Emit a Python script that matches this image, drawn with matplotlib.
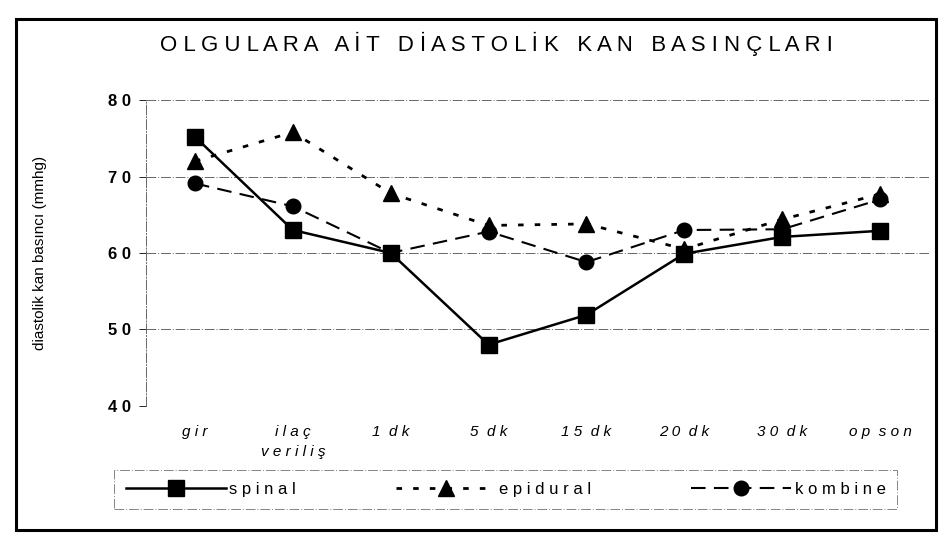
import matplotlib.pyplot as plt
from matplotlib.patches import Rectangle

# data
categories = ['g i r', 'i l a ç\nv e r i l i ş', '1  d k', '5  d k', '1 5  d k', '2 0  d k', '3 0  d k', 'o p  s o n']
spinal = [75.2, 63.0, 60.0, 48.0, 51.9, 59.9, 62.1, 62.9]
epidural = [72.0, 75.8, 67.8, 63.6, 63.8, 60.5, 64.4, 67.7]
kombine = [69.1, 66.1, 60.0, 62.8, 58.8, 63.0, 63.1, 67.0]
yticks = [40, 50, 60, 70, 80]
ytick_labels = ['4 0', '5 0', '6 0', '7 0', '8 0']

plt.rcParams['font.family'] = ['Liberation Sans', 'DejaVu Sans']

fig = plt.figure(figsize=(9.45, 5.44), dpi=100)
ax = fig.add_axes([0.1545, 0.254, 0.8286, 0.562])

x = list(range(len(categories)))

# grid lines (thin, broken up like the scan)
for v in yticks:
    ax.axhline(v, color='#666666', lw=0.7, ls=(0, (10, 2, 1, 2)), zorder=1)

ax.plot(x, epidural, color='black', lw=2, ls=(0, (2, 4)), marker='^', ms=11,
        label='e p i d u r a l', zorder=3)
ax.plot(x, kombine, color='black', lw=1.5, ls=(0, (7, 4)), marker='o', ms=10.5,
        label='k o m b i n e', zorder=4)
ax.plot(x, spinal, color='black', lw=1.8, ls='-', marker='s', ms=12,
        label='s p i n a l', zorder=5)

ax.set_xlim(-0.5, 7.5)
ax.set_ylim(40, 80)
ax.set_yticks(yticks)
ax.set_yticklabels(ytick_labels, fontsize=12, fontweight='bold')
ax.set_xticks(x)
ax.set_xticklabels(categories, fontsize=11, style='italic', linespacing=1.5)
ax.tick_params(axis='x', length=0, pad=14)
ax.tick_params(axis='y', length=5, width=0.6, pad=6)

for s in ['top', 'right', 'bottom']:
    ax.spines[s].set_visible(False)
ax.spines['left'].set_linestyle((0, (10, 2, 1, 2)))
ax.spines['left'].set_linewidth(0.7)
ax.spines['left'].set_color('#666666')

ax.set_ylabel('diastolik kan basıncı (mmhg)', fontsize=11, labelpad=44)

fig.text(0.525, 0.92, 'O L G U L A R A   A İ T   D İ A S T O L İ K   K A N   B A S I N Ç L A R I',
         ha='center', va='center', fontsize=16)

h, l = ax.get_legend_handles_labels()
order = [2, 0, 1]
leg = fig.legend([h[i] for i in order], [l[i] for i in order], ncol=3,
                 loc='center', bbox_to_anchor=(0.535, 0.1), fontsize=12,
                 handlelength=6, columnspacing=6, frameon=True, fancybox=False,
                 borderpad=0.7, handletextpad=0.2)
leg.get_frame().set_edgecolor('#666666')
leg.get_frame().set_linewidth(0.7)
leg.get_frame().set_linestyle((0, (10, 2, 1, 2)))

# outer frame of the scanned page
fig.patches.append(Rectangle((0.017, 0.025), 0.973, 0.94, transform=fig.transFigure,
                             fill=False, lw=2.2, edgecolor='black'))

fig.savefig('out.png', dpi=100)
